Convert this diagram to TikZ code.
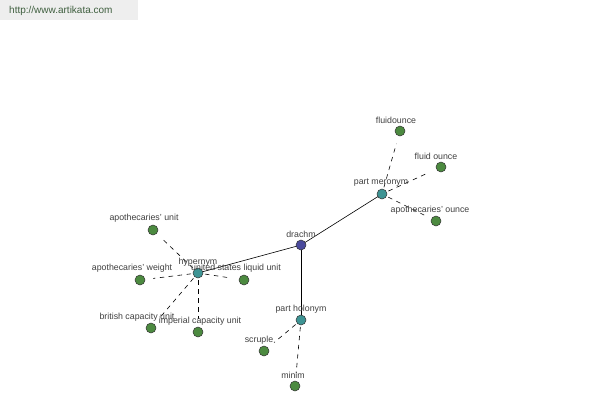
\documentclass[tikz,border=0pt]{standalone}
\usepackage{fontspec}
\setmainfont{Liberation Sans}
\begin{document}
\begin{tikzpicture}[x=1pt,y=-1pt,
  dot/.style={circle,draw=black!80,line width=0.5pt,minimum size=10pt,inner sep=0pt},
  root/.style={dot,fill=rootc},
  mid/.style={dot,fill=midc},
  leaf/.style={dot,fill=leafc},
  lab/.style={font=\fontsize{8.8}{10}\selectfont,text=black!75,inner sep=0pt},
  solidedge/.style={draw=black,line width=0.6pt},
  dashedge/.style={draw=black,line width=0.6pt,dashed,dash pattern=on 4.5pt off 4.5pt,shorten >=8pt,shorten <=7pt}]
\definecolor{rootc}{HTML}{4A4A9C}
\definecolor{midc}{HTML}{3E9494}
\definecolor{leafc}{HTML}{4C8A40}
\definecolor{hdr}{HTML}{EEEEEE}
\definecolor{hdrtext}{HTML}{3F5F3F}
\useasboundingbox[fill=white] (0,0) rectangle (600,400);
\fill[hdr] (0,0) rectangle (138,20);
\node[font=\fontsize{10}{11}\selectfont,text=hdrtext,anchor=west,inner sep=0pt] (url) at (9,11) {http://www.artikata.com};
% nodes
\node[leaf] (fluidounce) at (400,131) {};
\node[leaf] (fluidounce2) at (441,167) {};
\node[leaf] (apoz) at (436,221) {};
\node[leaf] (apunit) at (153,230) {};
\node[leaf] (apweight) at (140,280) {};
\node[leaf] (usliq) at (244,280) {};
\node[leaf] (brit) at (151,328) {};
\node[leaf] (imp) at (198,332) {};
\node[leaf] (scruple) at (264,351) {};
\node[leaf] (minim) at (295,386) {};
\coordinate (drachmc) at (301,245);
\coordinate (hyperc) at (198,273);
\coordinate (meroc) at (382,194);
\coordinate (holoc) at (301,320);
% edges
\draw[solidedge] (drachmc) -- (hyperc);
\draw[solidedge] (drachmc) -- (meroc);
\draw[solidedge] (drachmc) -- (holoc);
\foreach \t in {fluidounce,fluidounce2,apoz} \draw[dashedge] (meroc) -- (\t);
\foreach \t in {apunit,apweight,usliq,brit,imp} \draw[dashedge] (hyperc) -- (\t);
\foreach \t in {scruple,minim} \draw[dashedge] (holoc) -- (\t);
% hub nodes on top
\node[root] (drachm) at (drachmc) {};
\node[mid] (hyper) at (hyperc) {};
\node[mid] (mero) at (meroc) {};
\node[mid] (holo) at (holoc) {};
% labels
\node[lab] (l1) at (301,234) {drachm};
\node[lab] (l2) at (198,262) {hypernym};
\node[lab] (l3) at (381,183) {part meronym};
\node[lab] (l4) at (301,309) {part holonym};
\node[lab] (l5) at (396,120) {fluidounce};
\node[lab] (l6) at (436,156) {fluid ounce};
\node[lab] (l7) at (430,210) {apothecaries' ounce};
\node[lab] (l8) at (144,218) {apothecaries' unit};
\node[lab] (l9) at (132,268) {apothecaries' weight};
\node[lab] (l10) at (236,268) {united states liquid unit};
\node[lab] (l11) at (137,317) {british capacity unit};
\node[lab] (l12) at (200,321) {imperial capacity unit};
\node[lab] (l13) at (259,340) {scruple};
\node[lab] (l14) at (293,375) {minim};
\end{tikzpicture}
\end{document}
